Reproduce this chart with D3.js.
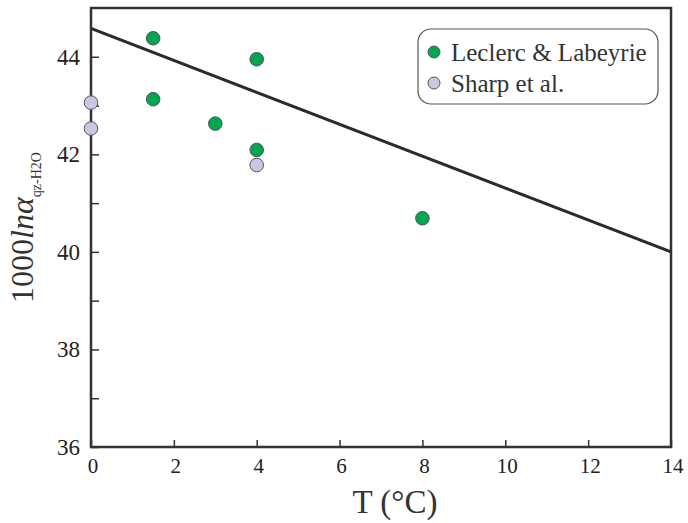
<!DOCTYPE html>
<html>
<head>
<meta charset="utf-8">
<script src="https://cdn.jsdelivr.net/npm/d3@7"></script>
<style>
  html, body { margin: 0; padding: 0; background: #ffffff; }
  svg { display: block; font-family: "Liberation Serif", "Times New Roman", serif; }
</style>
</head>
<body>
<svg id="chart" width="688" height="523"></svg>
<script>
// Quartz–water oxygen isotope fractionation vs temperature
const leclercT = [1.5, 4, 1.5, 3, 4, 8];
const leclercY = [44.38, 43.95, 43.13, 42.63, 42.09, 40.69];
const sharpT = [0, 0, 4];
const sharpY = [43.06, 42.53, 41.78];
// calibration line endpoints
const fitT = [0, 14];
const fitY = [44.58, 40.0];
const xTickValues = [0, 2, 4, 6, 8, 10, 12, 14];
const yTickValues = [36, 37, 38, 39, 40, 41, 42, 43, 44];
const yLabelValues = [36, 38, 40, 42, 44];
const seriesNames = ["Leclerc & Labeyrie", "Sharp et al."];
const seriesColors = ["#00a651", "#c9c8e2"];

const svg = d3.select("#chart");
const m = { left: 91, right: 671, top: 8, bottom: 447 };

const x = d3.scaleLinear().domain([0, 14]).range([m.left, m.right]);
const y = d3.scaleLinear().domain([36, 45]).range([m.bottom, m.top]);

const axisColor = "#333333";

// frame
svg.append("rect")
  .attr("x", m.left).attr("y", m.top)
  .attr("width", m.right - m.left).attr("height", m.bottom - m.top)
  .attr("fill", "none").attr("stroke", axisColor).attr("stroke-width", 2.5);

// y axis: inward ticks every unit, labels every two
const yAxis = d3.axisLeft(y).tickValues(yTickValues).tickSize(-8).tickFormat("");
const gy = svg.append("g").attr("transform", `translate(${m.left},0)`).call(yAxis);
gy.select(".domain").remove();
gy.selectAll(".tick line").attr("stroke", axisColor).attr("stroke-width", 1.5);

svg.append("g").selectAll("text")
  .data(yLabelValues).join("text")
  .attr("x", m.left - 11).attr("y", d => y(d))
  .attr("dy", "0.35em")
  .attr("text-anchor", "end")
  .attr("font-size", 23).attr("fill", "#222")
  .text(d => d);

// x axis: inward ticks with labels below
const xAxis = d3.axisBottom(x).tickValues(xTickValues).tickSize(-7).tickFormat("");
const gx = svg.append("g").attr("transform", `translate(0,${m.bottom})`).call(xAxis);
gx.select(".domain").remove();
gx.selectAll(".tick line").attr("stroke", axisColor).attr("stroke-width", 1.5);

svg.append("g").selectAll("text")
  .data(xTickValues).join("text")
  .attr("x", d => x(d) + 2).attr("y", m.bottom + 26)
  .attr("text-anchor", "middle")
  .attr("font-size", 21).attr("fill", "#222")
  .text(d => d);

// axis titles
svg.append("text")
  .attr("x", 395).attr("y", 513)
  .attr("text-anchor", "middle")
  .attr("font-size", 33).attr("fill", "#333")
  .text("T (°C)");

const yTitle = svg.append("text")
  .attr("transform", `translate(33,${(m.top + m.bottom) / 2}) rotate(-90)`)
  .attr("text-anchor", "middle")
  .attr("font-size", 32).attr("fill", "#333");
yTitle.append("tspan").text("1000");
yTitle.append("tspan").attr("font-style", "italic").text("lnα");
yTitle.append("tspan").attr("font-size", 14).attr("dy", 8).text("qz-H2O");

// calibration line, clipped to the frame
svg.append("defs").append("clipPath").attr("id", "plot-clip")
  .append("rect").attr("x", m.left).attr("y", m.top)
  .attr("width", m.right - m.left).attr("height", m.bottom - m.top);

svg.append("path")
  .datum(d3.zip(fitT, fitY))
  .attr("clip-path", "url(#plot-clip)")
  .attr("d", d3.line().x(d => x(d[0])).y(d => y(d[1])))
  .attr("fill", "none").attr("stroke", "#2b2b2b").attr("stroke-width", 3);

// data points
const pts = [
  { t: sharpT, v: sharpY, color: seriesColors[1] },
  { t: leclercT, v: leclercY, color: seriesColors[0] }
];
pts.forEach(s => {
  svg.append("g").selectAll("circle")
    .data(d3.zip(s.t, s.v)).join("circle")
    .attr("cx", d => x(d[0])).attr("cy", d => y(d[1]))
    .attr("r", 6.8)
    .attr("fill", s.color)
    .attr("stroke", "#555").attr("stroke-width", 1);
});

// legend
const lg = svg.append("g");
lg.append("rect")
  .attr("x", 418).attr("y", 29).attr("width", 240).attr("height", 75)
  .attr("rx", 13).attr("ry", 13)
  .attr("fill", "#fff").attr("stroke", "#555").attr("stroke-width", 1.2);
seriesNames.forEach((name, i) => {
  const cy = 52 + i * 31;
  lg.append("circle")
    .attr("cx", 434).attr("cy", cy).attr("r", 6)
    .attr("fill", seriesColors[i]).attr("stroke", "#555").attr("stroke-width", 1);
  lg.append("text")
    .attr("x", 451).attr("y", cy + 9)
    .attr("font-size", 25).attr("fill", "#333")
    .text(name);
});
</script>
</body>
</html>
